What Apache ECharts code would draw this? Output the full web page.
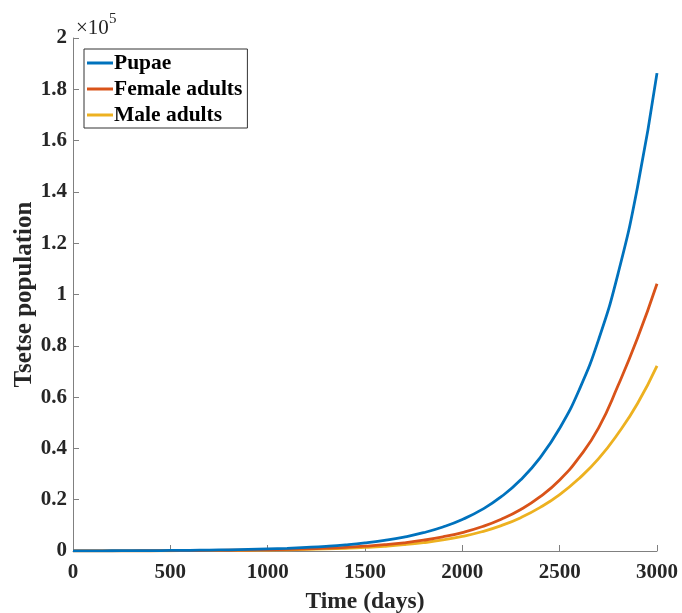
<!DOCTYPE html>
<html>
<head>
<meta charset="utf-8">
<script src="https://cdn.jsdelivr.net/npm/echarts@6/dist/echarts.min.js"></script>
<style>html,body{margin:0;padding:0;background:#fff;}#c{width:682px;height:613px;}</style>
</head>
<body>
<div id="c"></div>
<script>
const days = [0,100,200,300,400,500,600,700,800,900,1000,1100,1200,1300,1400,1500,1600,1700,1800,1900,2000,2100,2200,2300,2400,2500,2600,2700,2800,2900,3000];
const pupae = [60,75,95,125,160,210,270,360,470,620,810,1060,1400,1830,2400,3150,4140,5430,7130,9360,12280,16120,21160,27770,36440,47830,62780,82400,108150,141940,186300];
const femaleAdults = [50,60,70,80,100,130,170,220,285,370,490,640,830,1090,1430,1870,2450,3200,4200,5500,7200,9450,12400,16200,21200,27700,36500,48000,64500,83000,104200];
const maleAdults = [40,45,55,65,80,100,125,160,210,270,355,465,610,800,1060,1400,1850,2450,3250,4300,5700,7500,9900,13000,17000,22000,28300,36000,45800,57500,72200];
const seriesNames = ['Pupae','Female adults','Male adults'];
const colors = ['#0072BD','#D95319','#EDB120'];
const xTicks = [0,500,1000,1500,2000,2500,3000];
const yScale = 1e5;
const exponentBase = '×10';
const exponent = '5';

const font = 'Liberation Serif';
const chart = echarts.init(document.getElementById('c'), null, {renderer:'canvas'});
const mk = (arr) => days.map((d,i)=>[d, arr[i]]);
const allData = [pupae, femaleAdults, maleAdults];
chart.setOption({
  animation:false,
  backgroundColor:'#fff',
  grid:{left:73,right:25,top:38,bottom:62,containLabel:false,outerBoundsMode:'none'},
  graphic:[
    {type:'text', left:76, top:18, style:{text:exponentBase, font:'normal 21px "Liberation Serif"', fill:'#262626'}},
    {type:'text', left:109, top:12, style:{text:exponent, font:'normal 15px "Liberation Serif"', fill:'#262626'}}
  ],
  legend:{
    orient:'vertical', left:84, top:49,
    data:seriesNames,
    icon:'rect', itemWidth:26, itemHeight:3, itemGap:4,
    padding:[3,5,2,3],
    borderColor:'#333', borderWidth:1, borderRadius:0, backgroundColor:'#fff',
    textStyle:{fontFamily:font,fontSize:21.5,fontWeight:'bold',color:'#000',padding:[0,0,0,-4]}
  },
  xAxis:{
    type:'value', min:0, max:3000, interval:500,
    name:'Time (days)', nameLocation:'middle', nameGap:39,
    nameTextStyle:{fontFamily:font,fontSize:23.5,fontWeight:'bold',color:'#262626'},
    axisLine:{show:true,lineStyle:{color:'#808080',width:1}},
    axisTick:{show:true,inside:true,length:6,lineStyle:{color:'#808080'}},
    axisLabel:{fontFamily:font,fontSize:21,fontWeight:'bold',color:'#262626',margin:11,
      formatter:(v)=> xTicks.includes(v) ? String(v) : ''},
    splitLine:{show:false}
  },
  yAxis:{
    type:'value', min:0, max:200000, interval:20000,
    name:'Tsetse population', nameLocation:'middle', nameGap:36, nameMoveOverlap:false,
    nameTextStyle:{fontFamily:font,fontSize:25,fontWeight:'bold',color:'#262626'},
    axisLine:{show:true,lineStyle:{color:'#808080',width:1}},
    axisTick:{show:true,inside:true,length:6,lineStyle:{color:'#808080'}},
    axisLabel:{fontFamily:font,fontSize:21,fontWeight:'bold',color:'#262626',margin:6,
      formatter:(v)=> String(Math.round(v/yScale*10)/10)},
    splitLine:{show:false}
  },
  series: seriesNames.map((n,i)=>({
    name:n, type:'line', data:mk(allData[i]), showSymbol:false, smooth:true,
    lineStyle:{color:colors[i],width:2.8}, itemStyle:{color:colors[i]}, z:3-i
  }))
});
</script>
</body>
</html>
